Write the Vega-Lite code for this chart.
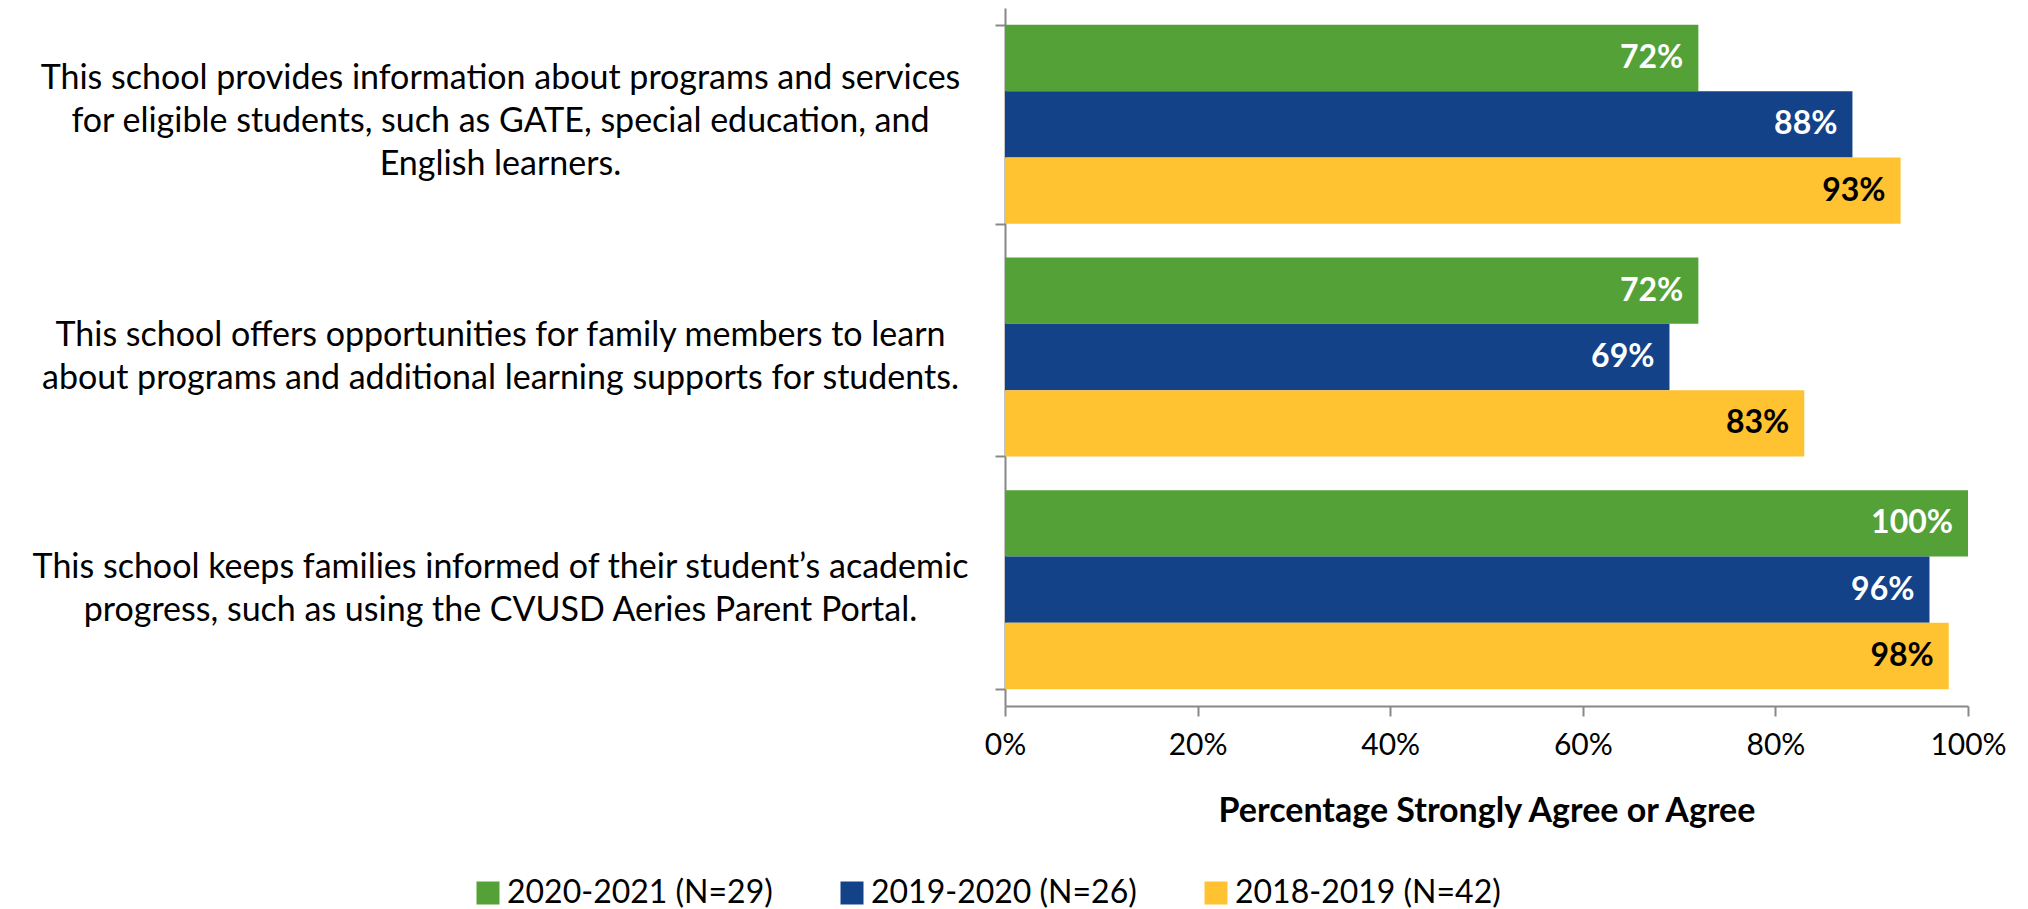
{
  "$schema": "https://vega.github.io/schema/vega-lite/v6.json",
  "width": 963,
  "height": 698,
  "autosize": {"type": "none"},
  "padding": {"left": 1005, "top": 8, "right": 60, "bottom": 203},
  "background": "white",
  "config": {"view": {"stroke": null}, "font": "Lato"},
  "data": {
    "values": [
      {"q": "This school provides information about programs and services|for eligible students, such as GATE, special education, and|English learners.", "year": "2020-2021 (N=29)", "value": 0.72},
      {"q": "This school provides information about programs and services|for eligible students, such as GATE, special education, and|English learners.", "year": "2019-2020 (N=26)", "value": 0.88},
      {"q": "This school provides information about programs and services|for eligible students, such as GATE, special education, and|English learners.", "year": "2018-2019 (N=42)", "value": 0.93},
      {"q": "This school offers opportunities for family members to learn|about programs and additional learning supports for students.", "year": "2020-2021 (N=29)", "value": 0.72},
      {"q": "This school offers opportunities for family members to learn|about programs and additional learning supports for students.", "year": "2019-2020 (N=26)", "value": 0.69},
      {"q": "This school offers opportunities for family members to learn|about programs and additional learning supports for students.", "year": "2018-2019 (N=42)", "value": 0.83},
      {"q": "This school keeps families informed of their student’s academic|progress, such as using the CVUSD Aeries Parent Portal.", "year": "2020-2021 (N=29)", "value": 1.0},
      {"q": "This school keeps families informed of their student’s academic|progress, such as using the CVUSD Aeries Parent Portal.", "year": "2019-2020 (N=26)", "value": 0.96},
      {"q": "This school keeps families informed of their student’s academic|progress, such as using the CVUSD Aeries Parent Portal.", "year": "2018-2019 (N=42)", "value": 0.98}
    ]
  },
  "encoding": {
    "y": {
      "field": "q",
      "type": "nominal",
      "sort": null,
      "scale": {"paddingInner": 0.1447, "paddingOuter": 0.07235},
      "axis": {
        "title": null,
        "labelExpr": "split(datum.label, '|')",
        "labelFont": "Lato",
        "labelFontSize": 34,
        "labelColor": "black",
        "labelLineHeight": 43,
        "labelAlign": "center",
        "labelBaseline": "middle",
        "labelOffset": {"condition": {"test": "length(split(datum.value, '|')) > 2", "value": -46}, "value": -22},
        "labelPadding": 495,
        "labelLimit": 1200,
        "tickBand": "extent",
        "tickSize": 10,
        "tickWidth": 2,
        "tickColor": "#888888",
        "domainColor": "#888888",
        "domainWidth": 2,
        "grid": false
      }
    },
    "yOffset": {
      "field": "year",
      "type": "nominal",
      "sort": ["2020-2021 (N=29)", "2019-2020 (N=26)", "2018-2019 (N=42)"],
      "scale": {"paddingInner": 0, "paddingOuter": 0}
    },
    "x": {
      "field": "value",
      "type": "quantitative",
      "scale": {"domain": [0, 1], "nice": false},
      "axis": {
        "title": "Percentage Strongly Agree or Agree",
        "titleFont": "Lato",
        "titleFontSize": 34,
        "titleFontWeight": "bold",
        "titleColor": "black",
        "titlePadding": 34,
        "format": ".0%",
        "values": [0, 0.2, 0.4, 0.6, 0.8, 1],
        "labelFont": "Lato",
        "labelFontSize": 30,
        "labelColor": "black",
        "labelPadding": 14,
        "labelFlush": false,
        "tickSize": 10,
        "tickWidth": 2,
        "tickColor": "#888888",
        "domainColor": "#888888",
        "domainWidth": 2,
        "grid": false
      }
    }
  },
  "layer": [
    {
      "mark": {"type": "bar"},
      "encoding": {
        "color": {
          "field": "year",
          "type": "nominal",
          "sort": ["2020-2021 (N=29)", "2019-2020 (N=26)", "2018-2019 (N=42)"],
          "scale": {"domain": ["2020-2021 (N=29)", "2019-2020 (N=26)", "2018-2019 (N=42)"], "range": ["#54A137", "#134289", "#FFC230"]},
          "legend": {
            "title": null,
            "orient": "none",
            "direction": "horizontal",
            "columns": 3,
            "legendX": -533,
            "legendY": 869,
            "symbolType": "square",
            "symbolSize": 529,
            "symbolStrokeWidth": 0,
            "labelFont": "Lato",
            "labelFontSize": 32,
            "labelColor": "black",
            "labelOffset": 3,
            "labelLimit": 500,
            "columnPadding": 63
          }
        }
      }
    },
    {
      "mark": {"type": "text", "align": "right", "baseline": "middle", "dx": -15, "font": "Lato", "fontSize": 32, "fontWeight": "bold"},
      "encoding": {
        "text": {"field": "value", "type": "quantitative", "format": ".0%"},
        "color": {
          "condition": {"test": "datum.year == '2018-2019 (N=42)'", "value": "black"},
          "value": "white"
        }
      }
    }
  ]
}
